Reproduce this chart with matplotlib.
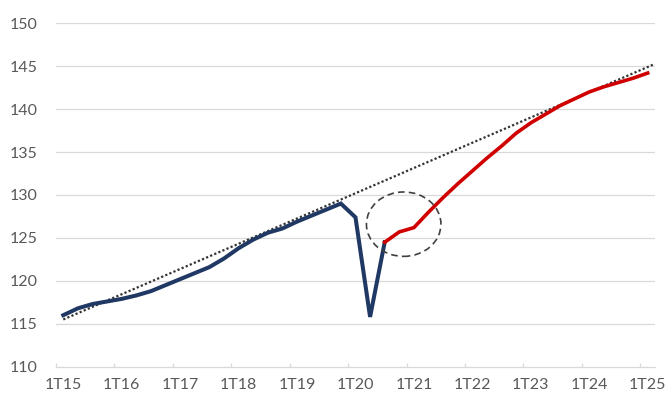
import matplotlib
matplotlib.use("Agg")
import matplotlib.pyplot as plt
from matplotlib.patches import Ellipse

# Quarterly index values, 1T15 .. 1T25
years = ["15", "16", "17", "18", "19", "20", "21", "22", "23", "24", "25"]
quarters = [f"{q}T{y}" for y in years for q in range(1, 5)][:41]

observed = [116.0, 116.8, 117.3, 117.6, 117.9, 118.3, 118.8, 119.5,
            120.2, 120.9, 121.6, 122.6, 123.8, 124.8, 125.6, 126.1,
            126.9, 127.6, 128.3, 129.0, 127.4, 115.8, 124.5]
forecast = [124.5, 125.7, 126.2, 128.0, 129.7, 131.3, 132.8, 134.3,
            135.7, 137.2, 138.4, 139.4, 140.4, 141.2, 142.0, 142.6,
            143.1, 143.6, 144.2]
trend_x = [0, 40.4]
trend_y = [115.5, 145.2]

tick_labels = [f"1T{y}" for y in years]

x_obs = list(range(len(observed)))
x_fc = list(range(len(observed) - 1, len(observed) - 1 + len(forecast)))

plt.rcParams["font.family"] = ["Lato", "DejaVu Sans"]

fig = plt.figure(figsize=(6.68, 4.01), dpi=100)
ax = fig.add_axes([0.0838, 0.0855, 0.8967, 0.8565])

# Gridlines
for v in range(115, 151, 5):
    ax.axhline(v, color="#d9d9d9", lw=0.9, zorder=0)

ax.plot(trend_x, trend_y, color="#333333", lw=1.6, linestyle=(0, (1, 1)),
        zorder=3)
ax.plot(x_obs, observed, color="#203864", lw=2.9, solid_joinstyle="miter",
        zorder=4)
ax.plot(x_fc, forecast, color="#d00000", lw=2.6, solid_joinstyle="miter",
        zorder=4)

# Circle highlighting the recovery
ax.add_patch(Ellipse((23.3, 126.6), 5.1, 7.5, fill=False, edgecolor="#404040",
                     lw=1.2, linestyle=(0, (4, 2.5)), zorder=5))

ax.set_xlim(-0.5, len(quarters) - 0.5)
ax.set_ylim(110, 150)
ax.set_yticks(range(110, 151, 5))
ax.tick_params(axis="y", length=0, pad=13, labelsize=11.5, labelcolor="#595959")

ax.set_xticks(range(0, len(quarters), 4))
ax.set_xticklabels(tick_labels)
ax.set_xticks([i - 0.5 for i in range(0, len(quarters), 4)], minor=True)
ax.tick_params(axis="x", which="major", length=0, pad=8, labelsize=11.5,
               labelcolor="#595959")
ax.tick_params(axis="x", which="minor", direction="in", length=3,
               color="#d9d9d9", width=0.9)

for side in ["top", "right", "left"]:
    ax.spines[side].set_visible(False)
ax.spines["bottom"].set_color("#d9d9d9")
ax.spines["bottom"].set_linewidth(0.9)

fig.savefig("out.png", dpi=100)
